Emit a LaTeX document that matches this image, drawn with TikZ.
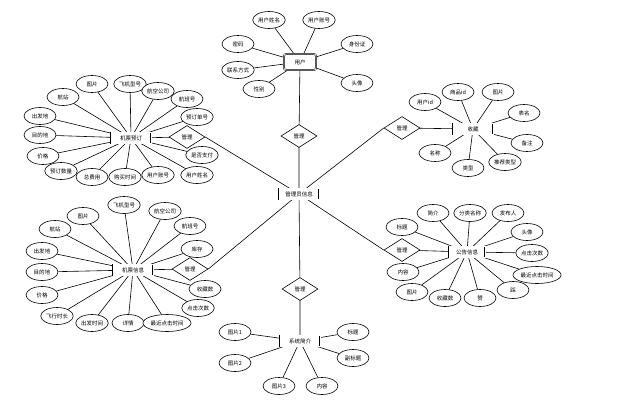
\documentclass[tikz,border=0pt]{standalone}
\usepackage{fontspec}
\newfontfamily\cjk{Noto Sans CJK SC}
\usetikzlibrary{shapes.geometric,backgrounds}
\tikzset{
	shuxing/.style={draw,ellipse,line width=0.6pt,fill=white,inner xsep=0.5pt,inner ysep=1pt,minimum width=32pt,minimum height=17pt},
	shiti/.style={draw,double,double distance=0.7pt,line width=0.5pt,fill=white,inner sep=1pt,minimum width=40pt,minimum height=11pt},
	guanxi/.style={draw,diamond,line width=0.6pt,fill=white,inner sep=0pt,minimum width=36pt,minimum height=23pt},
	lianxian/.style={line width=0.6pt}
}
\begin{document}
\begin{tikzpicture}[x=1pt,y=-1pt,font=\cjk\fontsize{5.5}{6}\selectfont]
		\useasboundingbox (0,0) rectangle (635,407);
		% entities
		\node[shiti,rounded corners=2pt,minimum width=32pt,minimum height=16pt] (yh) at (300,62) {用户};
		\node[shiti] (gly) at (299,194) {管理员信息};
		\node[shiti] (jpyd) at (131,138) {机票预订};
		\node[shiti] (jpxx) at (133,270) {机票信息};
		\node[shiti] (sc) at (473,129) {收藏};
		\node[shiti,minimum width=36pt] (gg) at (467,252) {公告信息};
		\node[shiti] (xt) at (300,341) {系统简介};
		% relations
		\node[guanxi] (gl1) at (299,136) {管理};
		\node[guanxi] (gl2) at (187,137) {管理};
		\node[guanxi] (gl3) at (190,269) {管理};
		\node[guanxi] (gl4) at (402,128) {管理};
		\node[guanxi] (gl5) at (402,250) {管理};
		\node[guanxi] (gl6) at (300,289) {管理};
		% user
		\node[shuxing] (yh1) at (269,20) {用户姓名};
		\node[shuxing] (yh2) at (319,20) {用户账号};
		\node[shuxing] (yh3) at (238,44) {密码};
		\node[shuxing] (yh4) at (357,44) {身份证};
		\node[shuxing] (yh5) at (238,70) {联系方式};
		\node[shuxing] (yh6) at (259,89) {性别};
		\node[shuxing] (yh7) at (357,83) {头像};
		% booking
		\node[shuxing] (yd1) at (92,84) {图片};
		\node[shuxing] (yd2) at (130,84) {飞机型号};
		\node[shuxing] (yd3) at (158,91) {航空公司};
		\node[shuxing] (yd4) at (187,99) {航班号};
		\node[shuxing] (yd5) at (63,97) {航站};
		\node[shuxing] (yd6) at (40,116) {出发地};
		\node[shuxing] (yd7) at (40,135) {目的地};
		\node[shuxing] (yd8) at (43,156) {价格};
		\node[shuxing] (yd9) at (61,171) {预订数量};
		\node[shuxing] (yd10) at (92,177) {总费用};
		\node[shuxing] (yd11) at (125,177) {购买时间};
		\node[shuxing] (yd12) at (158,175) {用户账号};
		\node[shuxing] (yd13) at (197,175) {用户姓名};
		\node[shuxing] (yd14) at (202,155) {是否支付};
		\node[shuxing] (yd15) at (197,117) {预订单号};
		% ticket
		\node[shuxing] (xx1) at (83,216) {图片};
		\node[shuxing] (xx2) at (124,205) {飞机型号};
		\node[shuxing] (xx3) at (165,211) {航空公司};
		\node[shuxing] (xx4) at (190,226) {航班号};
		\node[shuxing] (xx5) at (55,229) {航站};
		\node[shuxing] (xx6) at (42,251) {出发地};
		\node[shuxing] (xx7) at (42,272) {目的地};
		\node[shuxing] (xx8) at (42,295) {价格};
		\node[shuxing] (xx9) at (57,316) {飞行时长};
		\node[shuxing] (xx10) at (92,323) {出发时间};
		\node[shuxing] (xx11) at (128,323) {详情};
		\node[shuxing] (xx12) at (167,323) {最近点击时间};
		\node[shuxing] (xx13) at (198,308) {点击次数};
		\node[shuxing] (xx14) at (205,289) {收藏数};
		\node[shuxing] (xx15) at (197,249) {库存};
		% favourites
		\node[shuxing] (sc1) at (425,102) {用户id};
		\node[shuxing] (sc2) at (458,92) {商品id};
		\node[shuxing] (sc3) at (498,92) {图片};
		\node[shuxing] (sc4) at (524,113) {表名};
		\node[shuxing] (sc5) at (527,143) {备注};
		\node[shuxing] (sc6) at (505,162) {推荐类型};
		\node[shuxing] (sc7) at (468,168) {类型};
		\node[shuxing] (sc8) at (435,153) {名称};
		% notices
		\node[shuxing] (gg1) at (402,227) {标题};
		\node[shuxing] (gg2) at (433,213) {简介};
		\node[shuxing] (gg3) at (470,213) {分类名称};
		\node[shuxing] (gg4) at (508,213) {发布人};
		\node[shuxing] (gg5) at (527,232) {头像};
		\node[shuxing] (gg6) at (532,253) {点击次数};
		\node[shuxing] (gg7) at (537,275) {最近点击时间};
		\node[shuxing] (gg8) at (513,290) {踩};
		\node[shuxing] (gg9) at (480,298) {赞};
		\node[shuxing] (gg10) at (445,298) {收藏数};
		\node[shuxing] (gg11) at (412,292) {图片};
		\node[shuxing] (gg12) at (403,272) {内容};
		% about
		\node[shuxing] (xt1) at (235,332) {图片1};
		\node[shuxing] (xt2) at (235,363) {图片2};
		\node[shuxing] (xt3) at (279,386) {图片3};
		\node[shuxing] (xt4) at (322,386) {内容};
		\node[shuxing] (xt5) at (353,332) {标题};
		\node[shuxing] (xt6) at (353,358) {副标题};
		% links, behind the boxes
		\begin{pgfonlayer}{background}
		\draw[lianxian] (yh.center) -- (gl1.center) -- (gly.center) -- (gl6.center) -- (xt.center);
		\draw[lianxian] (jpyd.center) -- (gl2.center) (gl2.east) -- (gly.center);
		\draw[lianxian] (jpxx.center) -- (gl3.center) (gl3.east) -- (gly.center);
		\draw[lianxian] (sc.center) -- (gl4.center) (gl4.west) -- (gly.center);
		\draw[lianxian] (gg.center) -- (gl5.center) (gl5.west) -- (gly.center);
		\draw[lianxian] (yh.center) -- (yh1) (yh.center) -- (yh2) (yh.center) -- (yh3) (yh.center) -- (yh4)
			(yh.center) -- (yh5) (yh.center) -- (yh6) (yh.center) -- (yh7);
		\draw[lianxian] (jpyd.center) -- (yd1) (jpyd.center) -- (yd2) (jpyd.center) -- (yd3) (jpyd.center) -- (yd4)
			(jpyd.center) -- (yd5) (jpyd.center) -- (yd6) (jpyd.center) -- (yd7) (jpyd.center) -- (yd8)
			(jpyd.center) -- (yd9) (jpyd.center) -- (yd10) (jpyd.center) -- (yd11) (jpyd.center) -- (yd12)
			(jpyd.center) -- (yd13) (jpyd.center) -- (yd14) (jpyd.center) -- (yd15);
		\draw[lianxian] (jpxx.center) -- (xx1) (jpxx.center) -- (xx2) (jpxx.center) -- (xx3) (jpxx.center) -- (xx4)
			(jpxx.center) -- (xx5) (jpxx.center) -- (xx6) (jpxx.center) -- (xx7) (jpxx.center) -- (xx8)
			(jpxx.center) -- (xx9) (jpxx.center) -- (xx10) (jpxx.center) -- (xx11) (jpxx.center) -- (xx12)
			(jpxx.center) -- (xx13) (jpxx.center) -- (xx14) (jpxx.center) -- (xx15);
		\draw[lianxian] (sc.center) -- (sc1) (sc.center) -- (sc2) (sc.center) -- (sc3) (sc.center) -- (sc4)
			(sc.center) -- (sc5) (sc.center) -- (sc6) (sc.center) -- (sc7) (sc.center) -- (sc8);
		\draw[lianxian] (gg.center) -- (gg1) (gg.center) -- (gg2) (gg.center) -- (gg3) (gg.center) -- (gg4)
			(gg.center) -- (gg5) (gg.center) -- (gg6) (gg.center) -- (gg7) (gg.center) -- (gg8)
			(gg.center) -- (gg9) (gg.center) -- (gg10) (gg.center) -- (gg11) (gg.center) -- (gg12);
		\draw[lianxian] (xt.center) -- (xt1) (xt.center) -- (xt2) (xt.center) -- (xt3) (xt.center) -- (xt4)
			(xt.center) -- (xt5) (xt.center) -- (xt6);
		\end{pgfonlayer}
	\end{tikzpicture}
\end{document}
